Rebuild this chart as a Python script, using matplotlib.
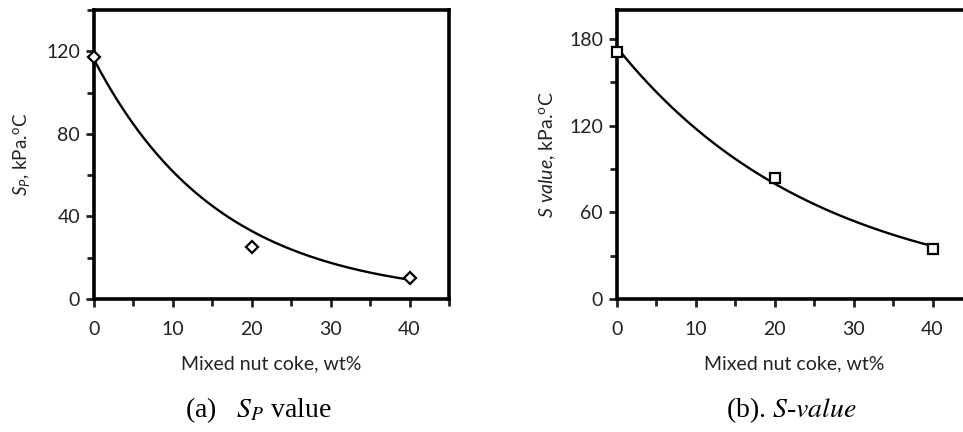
import numpy as np
import matplotlib
matplotlib.use("Agg")
import matplotlib.pyplot as plt
from matplotlib.ticker import MultipleLocator

# Data
coke_wt = [0, 20, 40]
sp_values = [117, 25, 10]
s_values = [171, 84, 34.5]
# exponential trend line parameters (y = a*exp(-b*x))
sp_fit = (116.0, 0.063)
s_fit = (174.0, 0.039)

plt.rcParams['font.family'] = ['Lato', 'DejaVu Sans']
plt.rcParams['mathtext.fontset'] = 'custom'
plt.rcParams['mathtext.rm'] = 'Lato'
plt.rcParams['mathtext.it'] = 'Lato:italic'

fig = plt.figure(figsize=(9.63, 4.32), dpi=100)
ax1 = fig.add_axes([94/963, 1-299/432, 355/963, 289/432])
ax2 = fig.add_axes([617/963, 1-299/432, 355/963, 289/432])

xs = np.linspace(0, 40, 200)

def style(ax, ymax, ymaj, ymin):
    ax.set_xlim(0, 45)
    ax.set_ylim(0, ymax)
    ax.xaxis.set_major_locator(MultipleLocator(10))
    ax.xaxis.set_minor_locator(MultipleLocator(5))
    ax.yaxis.set_major_locator(MultipleLocator(ymaj))
    ax.yaxis.set_minor_locator(MultipleLocator(ymin))
    for s in ax.spines.values():
        s.set_linewidth(2.6)
    ax.tick_params(which='both', direction='out', width=2, labelsize=14, colors='#222222')
    ax.tick_params(which='major', length=6, pad=4)
    ax.tick_params(which='minor', length=5)
    ax.tick_params(axis='x', pad=10)
    ax.set_xlabel('Mixed nut coke, wt%', fontsize=14, labelpad=12, color='#222222')

ax1.plot(xs, sp_fit[0]*np.exp(-sp_fit[1]*xs), color='black', lw=1.7, zorder=2)
ax1.plot(coke_wt, sp_values, linestyle='none', marker='D', markersize=6.5,
         markerfacecolor='white', markeredgecolor='black', markeredgewidth=1.6, zorder=3, clip_on=False)
style(ax1, 140, 40, 20)
ax1.set_ylabel(r'$S_P$, kPa.$^{\mathrm{o}}$C', fontsize=13.5, labelpad=10, color='#222222')

ax2.plot(xs, s_fit[0]*np.exp(-s_fit[1]*xs), color='black', lw=1.7, zorder=2)
ax2.plot(coke_wt, s_values, linestyle='none', marker='s', markersize=7.5,
         markerfacecolor='white', markeredgecolor='black', markeredgewidth=1.6, zorder=3, clip_on=False)
style(ax2, 200, 60, 30)
ax2.set_ylabel(r'$S\ value$, kPa.$^{\mathrm{o}}$C', fontsize=14, labelpad=8, color='#222222')

fig.text(258/963, 1-410/432, r'(a)   $\mathit{S_P}$ value', family='Liberation Serif',
         math_fontfamily='stix', fontsize=20, ha='center', va='center')
fig.text(791/963, 1-410/432, r'(b). $\mathit{S}$-$\mathit{value}$', family='Liberation Serif',
         math_fontfamily='stix', fontsize=20, ha='center', va='center')

fig.savefig('out.png', dpi=100)
